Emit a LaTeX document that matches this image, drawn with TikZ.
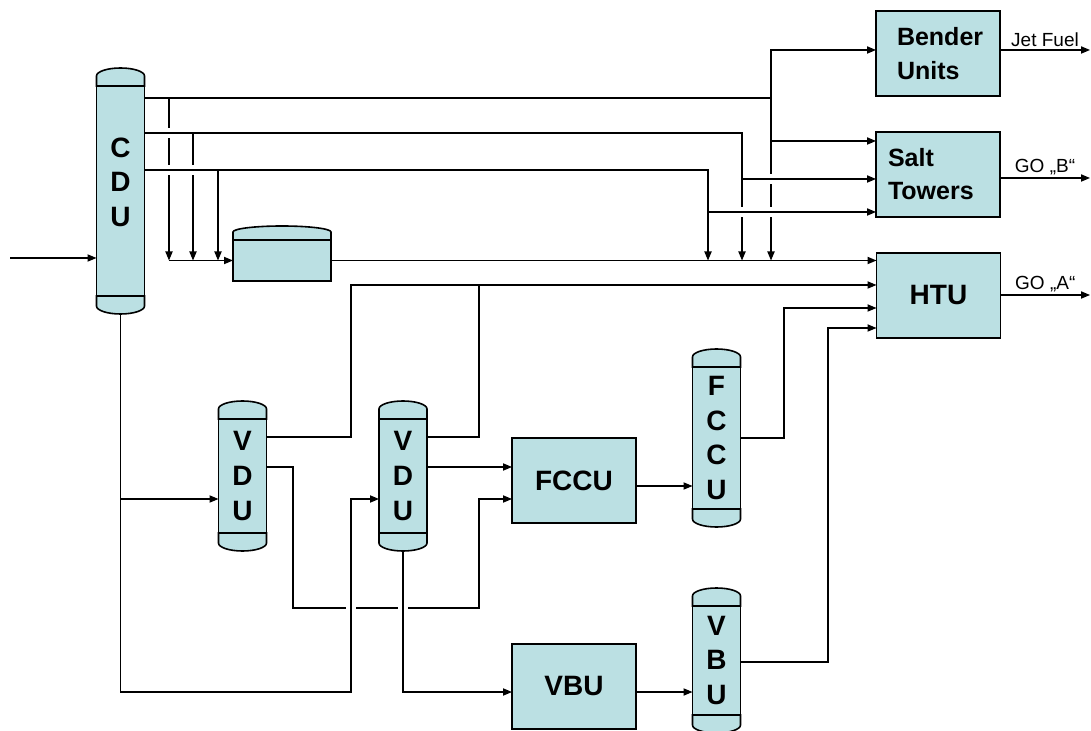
\documentclass[tikz,border=0pt]{standalone}
\usepackage{fontspec}
\setmainfont{Liberation Sans}
\usetikzlibrary{arrows.meta,positioning,calc,backgrounds}
\definecolor{UnitFill}{HTML}{BBE0E3}
\tikzset{
  UB/.style={rectangle,draw=black,line width=0.8pt,fill=UnitFill,outer sep=0pt,
             minimum width=62pt,minimum height=42.5pt,
             font=\fontsize{14}{17}\selectfont\bfseries},
  UC/.style={rectangle,draw=black,line width=0.8pt,fill=UnitFill,outer sep=0pt,
             minimum width=24pt,inner sep=0pt,align=center,
             font=\fontsize{14}{17.3}\selectfont\bfseries},
  dome/.style={draw=black,line width=0.8pt,fill=UnitFill},
  arr/.style={-{Triangle[length=4.5pt,width=3.6pt]},line width=0.6pt},
  ln/.style={line width=0.6pt},
  hop/.style={preaction={draw=white,line width=5pt,-,shorten <=3pt,shorten >=3pt}},
  lbl/.style={font=\fontsize{9.5}{10}\selectfont,inner sep=1.2pt}
}
\newcommand{\domes}[1]{%
  \path[dome] (#1.north west) -- ++(0,10) arc[start angle=180,end angle=0,x radius=24,y radius=8] -- (#1.north east) -- cycle;
  \path[dome] (#1.south west) -- ++(0,-10) arc[start angle=180,end angle=360,x radius=24,y radius=8] -- (#1.south east) -- cycle;
}
\begin{document}
\begin{tikzpicture}[x=0.5pt,y=0.5pt]
  \useasboundingbox (0,0) rectangle (1091,-731);

  % Columns
  \node[UC,minimum height=105pt,
        label={[align=center,inner sep=0pt,yshift=4.5pt,font=\fontsize{14}{17.3}\selectfont\bfseries]center:C\\D\\U}] (cdu) at (120.5,-191) {};
  \node[UC,minimum height=57pt] (vdu1) at (242.5,-476) {V\\D\\U};
  \node[UC,minimum height=57pt] (vdu2) at (403,-476) {V\\D\\U};
  \node[UC,minimum height=71pt] (fccucol) at (716.5,-438) {F\\C\\C\\U};
  \node[UC,minimum height=54.5pt] (vbucol) at (716.5,-660.5) {V\\B\\U};
  \domes{cdu}
  \domes{vdu1}
  \domes{vdu2}
  \domes{fccucol}
  \domes{vbucol}

  % Tank
  \node[UB,minimum width=49pt,minimum height=20.5pt] (tank) at (282,-260.5) {};
  \path[dome] (tank.north west) -- ++(0,8) arc[start angle=180,end angle=0,x radius=49,y radius=6] -- (tank.north east) -- cycle;

  % Units
  \node[UB,align=left,text width=41pt,font=\fontsize{12.5}{17}\selectfont\bfseries] (bender) at (938,-53.5) {Bender\\Units};
  \node[UB,align=left,text width=50pt,font=\fontsize{12.5}{16.5}\selectfont\bfseries] (salt) at (938,-174.5) {Salt\\Towers};
  \node[UB] (htu) at (938.5,-295.5) {HTU};
  \node[UB] (fccu) at (574,-480.5) {FCCU};
  \node[UB] (vbu) at (574,-686.5) {VBU};

  % Knees
  \coordinate (feed) at (10,-258);
  \coordinate (jA) at (771,-98);
  \coordinate (bA) at (771,-50);
  \coordinate (sA) at (771,-141);
  \coordinate (dA) at (169,-98);
  \coordinate (jB) at (742,-133);
  \coordinate (sB) at (742,-179);
  \coordinate (dB) at (193,-133);
  \coordinate (jC) at (708,-170);
  \coordinate (sC) at (708,-212);
  \coordinate (dC) at (218,-170);
  \coordinate (kC) at (351,-692);
  \coordinate (kD) at (351,-499);
  \coordinate (kE1) at (351,-437);
  \coordinate (kE2) at (351,-285);
  \coordinate (kF1) at (479,-437);
  \coordinate (kG) at (293,-467);
  \coordinate (kH) at (293,-608);
  \coordinate (kI) at (479,-608);
  \coordinate (kJ) at (479,-499);
  \coordinate (kK) at (403,-692);
  \coordinate (fo) at (636,-486);
  \coordinate (kL) at (784,-438);
  \coordinate (kM) at (784,-308);
  \coordinate (kN) at (828,-662);
  \coordinate (kO) at (828,-328);
  \coordinate (eJ) at (1090,-50);
  \coordinate (eB) at (1090,-178);
  \coordinate (eA) at (1090,-295);

  \begin{scope}[on background layer]
    \draw[arr](feed)--(feed-|cdu.west);
    % top draw
    \draw[ln](cdu.east|-jA)--(jA);
    \draw[arr](jA)--(bA)--(bA-|bender.west);
    \draw[arr](sA)--(sA-|salt.west);
    \draw[arr](jA)--(jA|-tank.east);
    \draw[arr](dA)--(dA|-tank.west);
    % middle draw
    \draw[arr,hop](cdu.east|-jB)--(jB)--(jB|-tank.east);
    \draw[arr,hop](sB)--(sB-|salt.west);
    \draw[arr](dB)--(dB|-tank.west);
    % lower draw
    \draw[arr,hop](cdu.east|-jC)--(jC)--(jC|-tank.east);
    \draw[arr,hop](sC)--(sC-|salt.west);
    \draw[arr](dC)--(dC|-tank.west);
    \draw[arr](dA|-tank.west)--(tank.west);
    \draw[arr](tank.east)--(tank.east-|htu.west);
    % residue
    \draw[arr](vdu1.east|-kG)--(kG)--(kH)--(kI)--(kJ)--(kJ-|fccu.west);
    \draw[arr,hop](cdu.south)|-(kC)--(kD)--(kD-|vdu2.west);
    \draw[arr,hop](vdu2.south)--(kK)--(kK-|vbu.west);
    \draw[arr](kD-|cdu.south)--(kD-|vdu1.west);
    \draw[arr](vdu1.east|-kE1)--(kE1)--(kE2)--(kE2-|htu.west);
    \draw[ln](vdu2.east|-kF1)--(kF1)--(kF1|-kE2);
    \draw[arr](vdu2.east|-kG)--(kG-|fccu.west);
    \draw[arr](fccu.east|-fo)--(fo-|fccucol.west);
    \draw[arr](fccucol.east|-kL)--(kL)--(kM)--(kM-|htu.west);
    \draw[arr](vbu.east|-kK)--(kK-|vbucol.west);
    \draw[arr](vbucol.east|-kN)--(kN)--(kO)--(kO-|htu.west);
    % products
    \draw[arr](bender.east|-eJ)--(eJ) node[midway,above,lbl]{Jet Fuel};
    \draw[arr](salt.east|-eB)--(eB) node[midway,above,lbl]{GO „B“};
    \draw[arr](htu.east|-eA)--(eA) node[midway,above,lbl]{GO „A“};
  \end{scope}
\end{tikzpicture}
\end{document}
